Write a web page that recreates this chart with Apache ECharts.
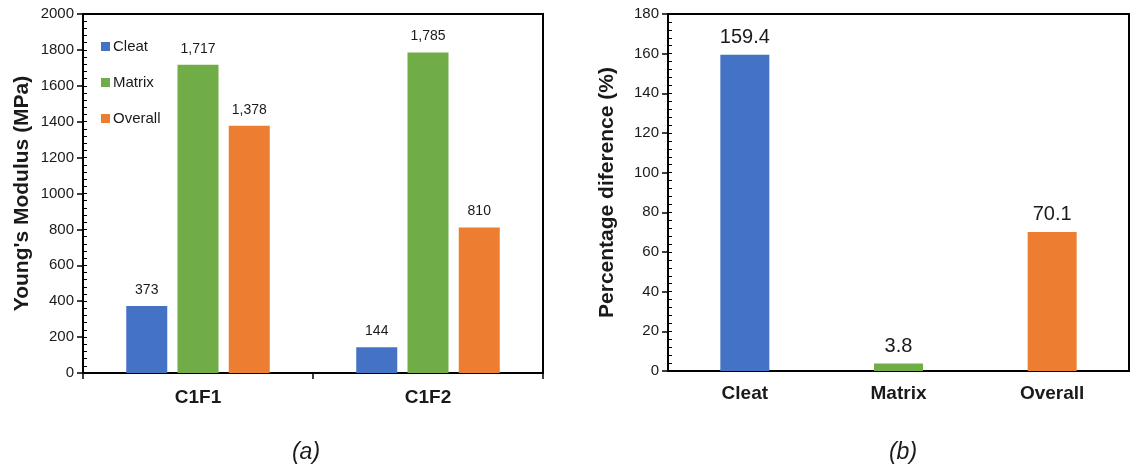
<!DOCTYPE html>
<html>
<head>
<meta charset="utf-8">
<script src="https://cdn.jsdelivr.net/npm/echarts@6/dist/echarts.min.js"></script>
<style>
  html, body { margin: 0; padding: 0; background: #fff; }
  #chart { width: 1131px; height: 466px; }
</style>
</head>
<body>
<div id="chart"></div>
<script>
// (a) Young's modulus per sample and component
const samples = ['C1F1', 'C1F2'];
const cleatModulus = [373, 144];
const matrixModulus = [1717, 1785];
const overallModulus = [1378, 810];

// (b) percentage difference between samples
const components = ['Cleat', 'Matrix', 'Overall'];
const percentDiff = [159.4, 3.8, 70.1];

const BLUE = '#4472C4', GREEN = '#70AD47', ORANGE = '#ED7D31';
const FONT = '"Liberation Sans", Arial, sans-serif';
const TXT = '#1a1a1a';

const chart = echarts.init(document.getElementById('chart'), null, { renderer: 'canvas' });

function fmtThousands(v) {
  return Number(v).toLocaleString('en-US');
}

function valueLabel(size, dist, fmt) {
  return {
    show: true, position: 'top', distance: dist,
    fontFamily: FONT, fontSize: size, color: TXT,
    formatter: p => fmt(p.value)
  };
}

const plainTick = v => String(v);

const option = {
  animation: false,
  backgroundColor: '#fff',
  textStyle: { fontFamily: FONT },
  title: [
    { text: '(a)', left: 301, top: 436, textAlign: 'center',
      textStyle: { fontFamily: FONT, fontSize: 23, fontStyle: 'italic', fontWeight: 'normal', color: TXT } },
    { text: '(b)', left: 898, top: 436, textAlign: 'center',
      textStyle: { fontFamily: FONT, fontSize: 23, fontStyle: 'italic', fontWeight: 'normal', color: TXT } }
  ],
  legend: {
    left: 96, top: 34, orient: 'vertical',
    itemWidth: 9, itemHeight: 9, itemGap: 21,
    icon: 'rect',
    textStyle: { fontFamily: FONT, fontSize: 15, color: TXT, padding: [0, 0, 0, -2] },
    data: ['Cleat', 'Matrix', 'Overall']
  },
  grid: [
    { left: 83, top: 14, width: 460, height: 359, show: true, borderColor: '#000', borderWidth: 2, containLabel: false },
    { left: 668, top: 14, width: 461, height: 357, show: true, borderColor: '#000', borderWidth: 2, containLabel: false }
  ],
  xAxis: [
    { type: 'category', gridIndex: 0, data: samples, boundaryGap: true,
      axisLine: { lineStyle: { color: '#000', width: 2 } },
      axisTick: { show: true, length: 6, alignWithLabel: false, lineStyle: { color: '#000', width: 1.5 } },
      axisLabel: { fontFamily: FONT, fontSize: 19, fontWeight: 'bold', color: TXT, margin: 15 } },
    { type: 'category', gridIndex: 1, data: components, boundaryGap: true,
      axisLine: { lineStyle: { color: '#000', width: 2 } },
      axisTick: { show: false },
      axisLabel: { fontFamily: FONT, fontSize: 19, fontWeight: 'bold', color: TXT, margin: 13 } }
  ],
  yAxis: [
    { type: 'value', gridIndex: 0, min: 0, max: 2000, interval: 200, position: 'left',
      name: "Young's Modulus (MPa)", nameLocation: 'middle', nameGap: 50,
      nameTextStyle: { fontFamily: FONT, fontSize: 21, fontWeight: 'bold', color: TXT },
      axisLine: { show: true, lineStyle: { color: '#000', width: 2 } },
      axisTick: { show: true, length: 6, lineStyle: { color: '#000', width: 1.5 } },
      axisLabel: { fontFamily: FONT, fontSize: 15, color: TXT, margin: 9, formatter: plainTick },
      splitLine: { show: false } },
    // minor ticks drawn on the inside of the left axis
    { type: 'value', gridIndex: 0, min: 0, max: 2000, interval: 40, position: 'left',
      axisLine: { show: false },
      axisTick: { show: true, inside: true, length: 4, lineStyle: { color: '#000', width: 1 } },
      axisLabel: { show: false }, splitLine: { show: false } },
    { type: 'value', gridIndex: 1, min: 0, max: 180, interval: 20, position: 'left',
      name: 'Percentage diference (%)', nameLocation: 'middle', nameGap: 50,
      nameTextStyle: { fontFamily: FONT, fontSize: 21, fontWeight: 'bold', color: TXT },
      axisLine: { show: true, lineStyle: { color: '#000', width: 2 } },
      axisTick: { show: true, length: 6, lineStyle: { color: '#000', width: 1.5 } },
      axisLabel: { fontFamily: FONT, fontSize: 15, color: TXT, margin: 9, formatter: plainTick },
      splitLine: { show: false } },
    { type: 'value', gridIndex: 1, min: 0, max: 180, interval: 4, position: 'left',
      axisLine: { show: false },
      axisTick: { show: true, inside: true, length: 4, lineStyle: { color: '#000', width: 1 } },
      axisLabel: { show: false }, splitLine: { show: false } }
  ],
  series: [
    { name: 'Cleat', type: 'bar', xAxisIndex: 0, yAxisIndex: 0, data: cleatModulus,
      barWidth: 41, barGap: '25%', itemStyle: { color: BLUE },
      label: valueLabel(14, 9, fmtThousands) },
    { name: 'Matrix', type: 'bar', xAxisIndex: 0, yAxisIndex: 0, data: matrixModulus,
      barWidth: 41, barGap: '25%', itemStyle: { color: GREEN },
      label: valueLabel(14, 9, fmtThousands) },
    { name: 'Overall', type: 'bar', xAxisIndex: 0, yAxisIndex: 0, data: overallModulus,
      barWidth: 41, barGap: '25%', itemStyle: { color: ORANGE },
      label: valueLabel(14, 9, fmtThousands) },
    { name: 'Difference', type: 'bar', xAxisIndex: 1, yAxisIndex: 2,
      data: percentDiff.map((v, i) => ({ value: v, itemStyle: { color: [BLUE, GREEN, ORANGE][i] } })),
      barWidth: 49,
      label: valueLabel(20, 7, v => Number(v).toFixed(1)) }
  ]
};

chart.setOption(option);
</script>
</body>
</html>
